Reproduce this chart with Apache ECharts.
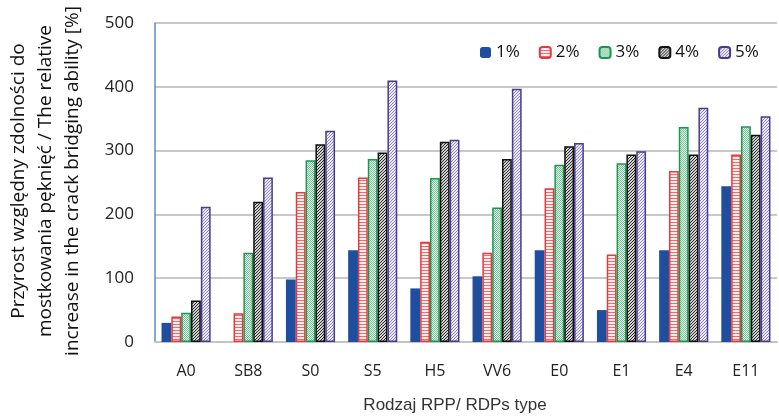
<!DOCTYPE html>
<html><head><meta charset="utf-8">
<script src="https://cdn.jsdelivr.net/npm/echarts@6/dist/echarts.min.js"></script>
<style>html,body{margin:0;padding:0;background:#fff}#c{width:779px;height:418px}</style>
</head><body><div id="c"></div>
<script>
const categories = ['A0','SB8','S0','S5','H5','VV6','E0','E1','E4','E11'];
const seriesNames = ['1%','2%','3%','4%','5%'];
const v1 = [30, 0, 98, 144, 84, 103, 144, 50, 144, 244];
const v2 = [40, 45, 235, 258, 157, 140, 241, 137, 268, 294];
const v3 = [46, 140, 285, 287, 257, 211, 278, 280, 337, 338];
const v4 = [65, 220, 310, 297, 314, 287, 307, 294, 294, 325];
const v5 = [212, 258, 331, 410, 317, 397, 312, 299, 367, 354];
const yTicks = [0, 100, 200, 300, 400, 500];
const yTitle = 'Przyrost względny zdolności do\nmostkowania pęknięć / The relative\nincrease in the crack bridging ability [%]';
const xTitle = 'Rodzaj RPP/ RDPs type';

function pat(w, h, bg, fg, test) {
  const c = document.createElement('canvas'); c.width = w; c.height = h;
  const ctx = c.getContext('2d');
  ctx.fillStyle = bg; ctx.fillRect(0, 0, w, h);
  ctx.fillStyle = fg;
  for (let x = 0; x < w; x++) for (let y = 0; y < h; y++) if (test(x, y)) ctx.fillRect(x, y, 1, 1);
  return { image: c, repeat: 'repeat' };
}
const styles = [
  { color: '#1F4E9F', borderColor: '#1F4E9F', borderWidth: 0 },
  { color: pat(3, 3, '#FFF0F0', '#F26A6A', (x, y) => y === 0), borderColor: '#E8383D', borderWidth: 1.5 },
  { color: pat(2, 2, '#EEF8F2', '#6CC290', (x, y) => (x + y) % 2 === 0), borderColor: '#1E9650', borderWidth: 1.5 },
  { color: pat(3, 3, '#D0D0D0', '#2A2A2A', (x, y) => (x + y) % 3 === 0), borderColor: '#111111', borderWidth: 1.5 },
  { color: pat(3, 3, '#ECE9F6', '#9288C8', (x, y) => (x + y) % 3 === 0), borderColor: '#4B3A8C', borderWidth: 1.5 }
];
const values = [v1, v2, v3, v4, v5];
const font = 'Open Sans';
const chart = echarts.init(document.getElementById('c'), null, { renderer: 'canvas' });
chart.setOption({
  animation: false,
  textStyle: { fontFamily: font },
  legend: {
    top: 39, left: 475, itemWidth: 11, itemHeight: 11, itemGap: 19,
    textStyle: { fontSize: 17, color: '#111', fontFamily: font },
    data: seriesNames
  },
  grid: { left: 155, right: 2, top: 23, bottom: 76 },
  xAxis: {
    type: 'category', data: categories,
    axisLine: { lineStyle: { color: '#C4C4C4', width: 2 } },
    axisTick: { show: false },
    axisLabel: { fontSize: 16, color: '#222', margin: 21, fontFamily: font }
  },
  yAxis: {
    type: 'value', min: 0, max: 500, interval: 100,
    axisLine: { show: true, lineStyle: { color: '#5B8BD0', width: 1.5 } },
    splitLine: { lineStyle: { color: '#C8C8C8', width: 2 } },
    axisLabel: { fontSize: 17, color: '#222', margin: 21, fontFamily: font,
      formatter: v => (yTicks.indexOf(v) >= 0 ? String(v) : '') }
  },
  series: seriesNames.map((n, i) => ({
    name: n, type: 'bar', data: values[i],
    barGap: '0%', barCategoryGap: '21%',
    itemStyle: styles[i]
  })),
  graphic: [
    { type: 'text', x: 46, y: 181, rotation: Math.PI / 2,
      style: { text: yTitle, font: '19px ' + font, fill: '#111', align: 'center', verticalAlign: 'middle', lineHeight: 27 } },
    { type: 'text', x: 455, y: 405,
      style: { text: xTitle, font: '17px "Liberation Sans"', fill: '#333', align: 'center', verticalAlign: 'middle' } }
  ]
});
</script></body></html>
